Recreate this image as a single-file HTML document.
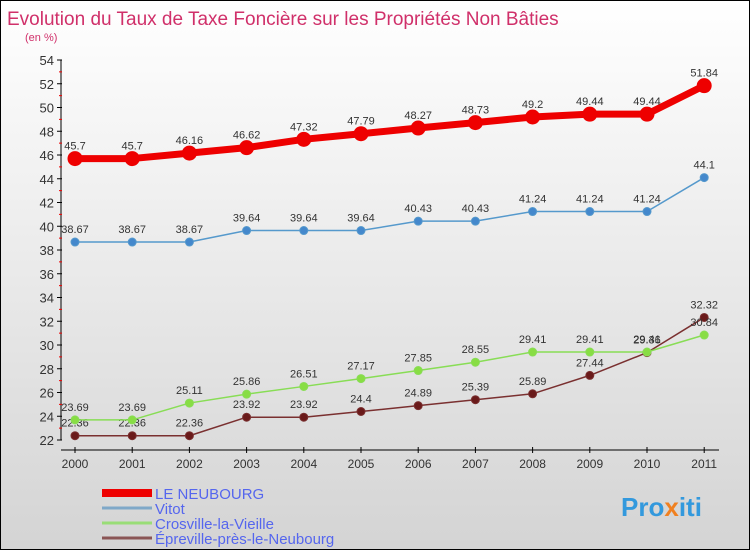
<!DOCTYPE html>
<html><head><meta charset="utf-8"><style>
body{margin:0}
#c{width:748px;height:548px;border:1px solid #000;background:linear-gradient(#fff,#d4d4d4);position:relative;font-family:"Liberation Sans",sans-serif;overflow:hidden}
</style></head><body>
<div id="c">
<svg width="748" height="548" id="s">
<text x="6" y="24" font-size="19" fill="#d0306a">Evolution du Taux de Taxe Foncière sur les Propriétés Non Bâties</text>
<text x="24" y="40" font-size="11" fill="#d0306a">(en %)</text>
<g id="g"></g>
<text x="620" y="515" font-size="26" font-weight="bold" fill="#3399dd">Pro<tspan fill="#f08020">x</tspan>iti</text>
</svg>
</div>
<script>
const years=["2000","2001","2002","2003","2004","2005","2006","2007","2008","2009","2010","2011"];
const yTicks=[22,24,26,28,30,32,34,36,38,40,42,44,46,48,50,52,54];
const neubourg=[45.7,45.7,46.16,46.62,47.32,47.79,48.27,48.73,49.2,49.44,49.44,51.84];
const vitot=[38.67,38.67,38.67,39.64,39.64,39.64,40.43,40.43,41.24,41.24,41.24,44.1];
const crosville=[23.69,23.69,25.11,25.86,26.51,27.17,27.85,28.55,29.41,29.41,29.41,30.84];
const epreville=[22.36,22.36,22.36,23.92,23.92,24.4,24.89,25.39,25.89,27.44,29.36,32.32];
const NS="http://www.w3.org/2000/svg";
const g=document.getElementById('g');
const X=i=>74+i*57.2, Y=v=>439-(v-22)*11.875;
function el(t,a,p){const e=document.createElementNS(NS,t);for(const k in a)e.setAttribute(k,a[k]);(p||g).appendChild(e);return e;}
let ax=el('line',{x1:60,y1:Y(54),x2:60,y2:Y(22),stroke:'#000'});


let xx=el('line',{x1:60,y1:449,x2:718,y2:449,stroke:'#000'});


yTicks.forEach(v=>{
 el('line',{x1:56,y1:Y(v),x2:61,y2:Y(v),stroke:'#000'});
 if(v<54)el('line',{x1:58,y1:Y(v+1),x2:61,y2:Y(v+1),stroke:'#e00'});
 const t=el('text',{x:53,y:Y(v)+5,'text-anchor':'end','font-size':13,fill:'#333'});t.textContent=v;
 
 
});
years.forEach((y,i)=>{
 el('line',{x1:X(i),y1:446,x2:X(i),y2:452,stroke:'#000'});
 const t=el('text',{x:X(i),y:467,'text-anchor':'middle','font-size':12,fill:'#333'});t.textContent=y;
 
 
});
function series(d,col,w,r,dot,name){
 const p=el('polyline',{points:d.map((v,i)=>X(i)+','+Y(v)).join(' '),fill:'none',stroke:col,'stroke-width':w,'stroke-linejoin':'round'});
 
 
 d.forEach((v,i)=>{
  const c=el('circle',{cx:X(i),cy:Y(v),r:r,fill:dot,stroke:col,'stroke-width':1});
  
  
  const t=el('text',{x:X(i),y:Y(v)-9,'text-anchor':'middle','font-size':11,fill:'#333'});t.textContent=v;
  
  
 });
}
series(epreville,'#7a3030',1.5,4,'#6a1a1a','epreville');
series(crosville,'#88dd55',1.5,4,'#88dd44','crosville');
series(vitot,'#5599cc',1.5,4,'#4488cc','vitot');
series(neubourg,'#ee0000',7,7,'#ee0000','le-neubourg');
const legNames=["LE NEUBOURG","Vitot","Crosville-la-Vieille","Épreville-près-le-Neubourg"];
const legCols=["#ee0000","#7fa8c8","#99dd77","#8a5555"];
const legW=[8,3,3,3];
legNames.forEach((n,i)=>{
 const y=492+i*15;
 const l=el('line',{x1:101,y1:y,x2:151,y2:y,stroke:legCols[i],'stroke-width':legW[i]});
 
 
 const t=el('text',{x:154,y:y+6,'font-size':15,fill:'#5566ee'});t.textContent=n;
 
 
});
</script>
</body></html>
